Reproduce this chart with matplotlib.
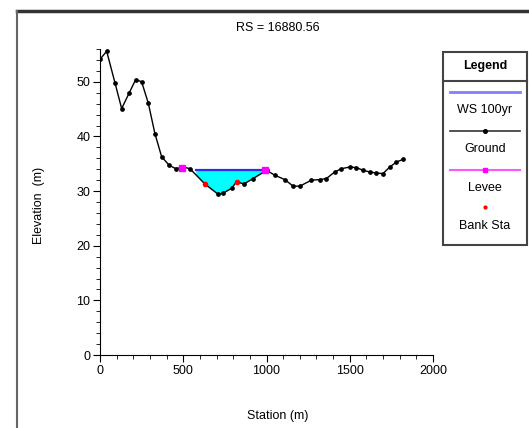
import numpy as np
import matplotlib
matplotlib.use("Agg")
import matplotlib.pyplot as plt
from matplotlib.ticker import MultipleLocator
from matplotlib.lines import Line2D
from matplotlib.patches import Rectangle

plt.rcParams['font.family'] = ['Liberation Sans Narrow', 'Liberation Sans', 'DejaVu Sans']

# Data
station = [0, 40, 90, 130, 176, 214, 250, 290, 330, 370, 416, 456, 500, 540,
           630, 710, 738, 790, 820, 864, 920, 1000, 1050, 1110, 1160, 1200,
           1270, 1320, 1360, 1410, 1450, 1500, 1540, 1580, 1620, 1660, 1700,
           1740, 1780, 1820]
ground = [54.1, 55.6, 49.8, 45.1, 48.0, 50.4, 50.0, 46.1, 40.5, 36.3, 34.7, 34.1, 34.4, 34.1,
          31.3, 29.4, 29.6, 30.5, 31.7, 31.3, 32.3, 33.8, 32.9, 32.1, 30.9, 30.9,
          32.0, 32.1, 32.3, 33.5, 34.1, 34.4, 34.3, 33.8, 33.5, 33.3, 33.2,
          34.4, 35.3, 35.8]
ws_elev = 33.8
ws_left, ws_right = 575, 1000
levee_sta = [490, 990]
levee_elev = [34.2, 33.9]
bank_sta = [630, 820]
bank_elev = [31.3, 31.7]

W, H = 529, 428
fig = plt.figure(figsize=(W / 100, H / 100), dpi=100)

def fx(px): return px / W
def fy(py): return 1 - py / H

# outer frame lines
fig.add_artist(Line2D([fx(17), fx(529)], [fy(11), fy(11)], color='#333333', lw=2.5))
fig.add_artist(Line2D([fx(17), fx(17)], [fy(11), fy(428)], color='#666666', lw=1.5))

ax = fig.add_axes([fx(100), fy(355), fx(433) - fx(100), fy(49) - fy(355)])
ax.set_xlim(0, 2000)
ax.set_ylim(0, 56)

st = np.array(station, float)
gr = np.array(ground, float)
xf = np.linspace(ws_left, ws_right, 400)
gf = np.interp(xf, st, gr)
ax.fill_between(xf, gf, ws_elev, where=gf < ws_elev, color='#00ffff', lw=0, zorder=1)
ax.plot([ws_left, ws_right], [ws_elev, ws_elev], color='#2a2aff', lw=1.6, zorder=2)
ax.plot(station, ground, color='black', lw=1.0, marker='o', ms=2.4, zorder=3)
ax.plot(levee_sta, levee_elev, ls='none', marker='s', ms=4, color='#ff00ff', zorder=4)
ax.plot(bank_sta, bank_elev, ls='none', marker='o', ms=3, color='red', zorder=5)

for s in ['top', 'right']:
    ax.spines[s].set_visible(False)
ax.xaxis.set_major_locator(MultipleLocator(500))
ax.xaxis.set_minor_locator(MultipleLocator(100))
ax.yaxis.set_major_locator(MultipleLocator(10))
ax.yaxis.set_minor_locator(MultipleLocator(2))
ax.tick_params(which='major', length=5, labelsize=9, pad=2)
ax.tick_params(which='minor', length=3)
ax.set_xlabel('Station (m)', fontsize=9)
ax.set_ylabel('Elevation  (m)', fontsize=9)
ax.xaxis.set_label_coords(0.535, -0.18)
ax.yaxis.set_label_coords(-0.165, 0.49)

fig.text(fx(278), fy(28), 'RS = 16880.56', ha='center', va='center', fontsize=9)

# legend box
lx0, lx1, ly0, ly1 = 443, 527, 52, 245
fig.add_artist(Rectangle((fx(lx0), fy(ly1)), fx(lx1) - fx(lx0), fy(ly0) - fy(ly1),
                         fill=False, ec='#444444', lw=1.5))
fig.add_artist(Line2D([fx(lx0), fx(lx1)], [fy(81), fy(81)], color='#444444', lw=1.5))
cx = (lx0 + lx1) / 2
fig.text(fx(cx), fy(66), 'Legend', ha='center', va='center', fontsize=9, fontweight='bold')
fig.add_artist(Line2D([fx(450), fx(520)], [fy(92), fy(92)], color='#8080ff', lw=2))
fig.text(fx(cx), fy(110), 'WS 100yr', ha='center', va='center', fontsize=9)
fig.add_artist(Line2D([fx(450), fx(520)], [fy(131), fy(131)], color='#333333', lw=1.2))
fig.add_artist(Line2D([fx(cx)], [fy(131)], color='black', marker='o', ms=2.6, ls='none'))
fig.text(fx(cx), fy(149), 'Ground', ha='center', va='center', fontsize=9)
fig.add_artist(Line2D([fx(450), fx(520)], [fy(170), fy(170)], color='#ff55ff', lw=1.5))
fig.add_artist(Line2D([fx(cx)], [fy(170)], color='#ff00ff', marker='s', ms=3, ls='none'))
fig.text(fx(cx), fy(188), 'Levee', ha='center', va='center', fontsize=9)
fig.add_artist(Line2D([fx(cx)], [fy(207)], color='red', marker='o', ms=2, ls='none'))
fig.text(fx(cx), fy(226), 'Bank Sta', ha='center', va='center', fontsize=9)

fig.savefig('out.png', dpi=100)
